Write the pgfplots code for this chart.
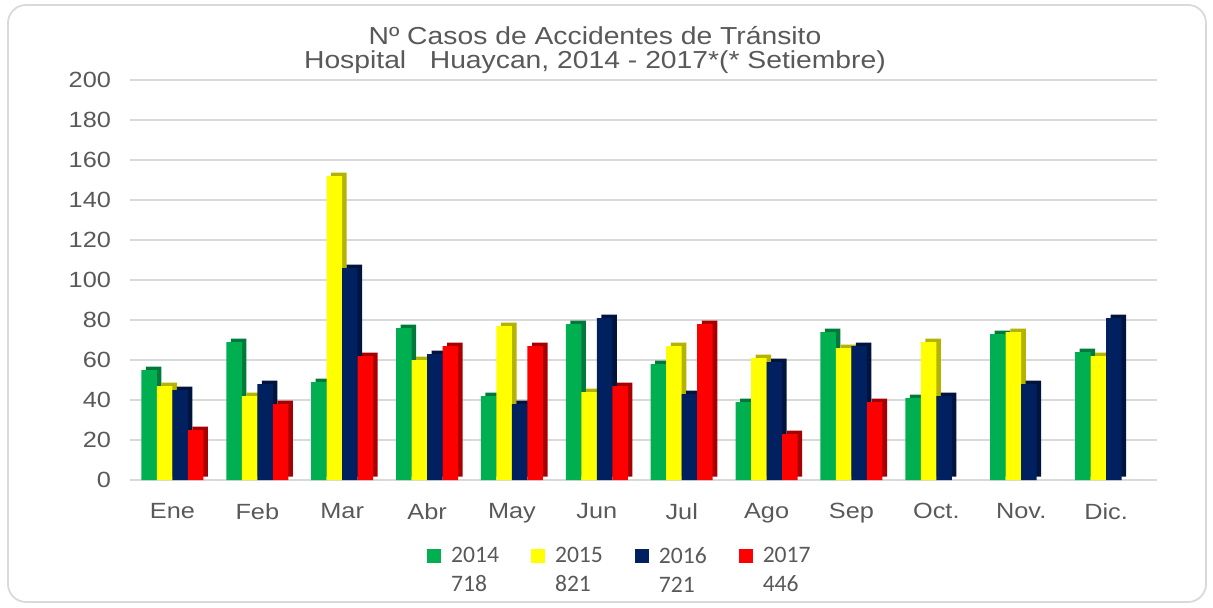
\documentclass[border=0pt]{standalone}
\usepackage{fontspec}
\setmainfont{Liberation Sans}[FakeStretch=1.15]
\newfontfamily\legfont{Carlito}
\usepackage{pgfplots}
\usepackage{pgfplotstable}
\pgfplotsset{compat=1.18}

\definecolor{g14}{HTML}{00B050}
\definecolor{g14d}{HTML}{007A3A}
\definecolor{y15}{HTML}{FFFF00}
\definecolor{y15d}{HTML}{B3B300}
\definecolor{b16}{HTML}{002060}
\definecolor{b16d}{HTML}{00143D}
\definecolor{r17}{HTML}{FF0000}
\definecolor{r17d}{HTML}{A80000}
\definecolor{gridc}{HTML}{D9D9D9}
\definecolor{labc}{HTML}{595959}

% casos por mes (Oct-Dic 2017 sin dato)
\pgfplotstableread{
mes v14 v15 v16 v17
0  55  47  45  25
1  69  42  48  38
2  49 152 106  62
3  76  60  63  67
4  42  77  38  67
5  78  44  81  47
6  58  67  43  78
7  39  61  59  23
8  74  66  67  39
9  41  69  42 nan
10 73  74  48 nan
11 64  62  81 nan
}\casos

\begin{document}
\begin{tikzpicture}[x=1pt,y=1pt]
\path (-65,-63.5) rectangle (541.5,240);
\draw[gridc, line width=0.9pt, rounded corners=9pt] (-61,-61) rectangle (538,237.5);
\node[align=center, text=labc, font=\fontsize{12.3}{12}\selectfont] at (232.5,215)
  {Nº Casos de Accidentes de Tránsito\\Hospital\ \ \ Huaycan, 2014 - 2017*(* Setiembre)};
\begin{axis}[
    at={(0,0)}, anchor=south west,
    scale only axis,
    width=513.5pt, height=200pt,
    xmin=-0.5, xmax=11.6,
    ymin=0, ymax=200,
    ytick={0,20,...,200},
    xtick={0,...,11},
    xticklabels={Ene,Feb,Mar,Abr,May,Jun,Jul,Ago,Sep,Oct.,Nov.,Dic.},
    ymajorgrids,
    grid style={draw=gridc, line width=1pt},
    axis line style={draw=none},
    major tick length=0pt,
    tick label style={font=\fontsize{11}{13}\selectfont, text=labc},
    /pgf/number format/assume math mode=true,
    yticklabel style={xshift=-6pt},
    xticklabel style={yshift=-8pt},
    bar width=7.75pt,
    legend columns=4,
    legend cell align=left,
    legend image code/.code={\path[draw=none, fill=none] (0pt,7.5pt) -- (10pt,7.5pt);
      \fill[#1, draw=none] (0pt,4pt) rectangle (7pt,11pt);},
    legend style={at={(0.478,-0.228)}, anchor=center, draw=none, fill=none,
      font=\legfont\fontsize{11.8}{14.5}\selectfont, text=labc,
      cells={align=left},
      /tikz/every odd column/.append style={column sep=0pt},
      /tikz/every even column/.append style={column sep=14pt}},
]
% caras laterales (efecto 3D)
\addplot[ybar, fill=g14d, draw=none, bar shift=-9.4pt, yshift=1.75pt, forget plot] table[x=mes, y=v14] {\casos};
\addplot[ybar, fill=y15d, draw=none, bar shift=-1.6pt, yshift=1.75pt, forget plot] table[x=mes, y=v15] {\casos};
\addplot[ybar, fill=b16d, draw=none, bar shift=6.1pt, yshift=1.75pt, forget plot] table[x=mes, y=v16] {\casos};
\addplot[ybar, fill=r17d, draw=none, bar shift=13.9pt, yshift=1.75pt, forget plot] table[x=mes, y=v17] {\casos};
% caras frontales
\addplot[ybar, fill=g14, draw=none, bar shift=-11.625pt] table[x=mes, y=v14] {\casos};
\addplot[ybar, fill=y15, draw=none, bar shift=-3.875pt] table[x=mes, y=v15] {\casos};
\addplot[ybar, fill=b16, draw=none, bar shift=3.875pt] table[x=mes, y=v16] {\casos};
\addplot[ybar, fill=r17, draw=none, bar shift=11.625pt] table[x=mes, y=v17] {\casos};
\addlegendentry{2014\\718}
\addlegendentry{2015\\821}
\addlegendentry{2016\\721}
\addlegendentry{2017\\446}
\end{axis}
\end{tikzpicture}
\end{document}
